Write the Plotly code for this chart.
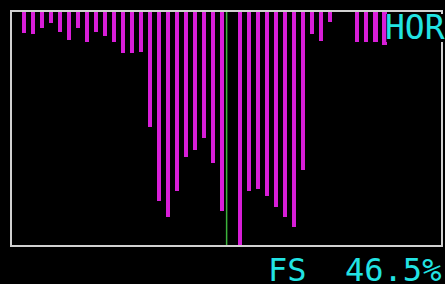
import plotly.graph_objects as go

# bar slot index (0..45) and depth of each bar (percent of frame height, measured from the top)
slots = list(range(46))
depth = [9.0, 9.4, 6.9, 4.7, 8.6, 12.0, 6.9, 12.9, 8.6, 10.3,
         12.9, 17.6, 17.6, 17.2, 49.4, 81.1, 88.0, 76.8, 62.2, 59.2,
         54.1, 64.8, 85.4, 0.0, 100.0, 76.8, 76.0, 79.0, 83.7, 88.0,
         92.3, 67.8, 9.4, 12.4, 4.3, 0.0, 0.0, 12.9, 12.9, 12.9,
         14.2, 0.0, 0.0, 0.0, 0.0, 0.0]
center_slot = 22.5
mode_label = "HOR"
fs_label = "FS  46.5%"

fig = go.Figure()
fig.add_trace(go.Bar(x=slots, y=depth, base=0, width=0.5,
                     marker=dict(color="#D81ED8", line=dict(width=0)),
                     hoverinfo="skip"))

fig.add_shape(type="line", xref="x", yref="y", x0=center_slot, x1=center_slot,
              y0=0, y1=100, line=dict(color="#3CB43C", width=1.5))
# black label panel behind the mode label
fig.add_shape(type="rect", xref="paper", yref="paper", x0=0.8724, x1=1.03,
              y0=0.871, y1=0.9914, fillcolor="black", line=dict(width=0), layer="above")

fig.add_annotation(text=mode_label, xref="paper", yref="paper", x=0.864, y=0.933,
                   xanchor="left", yanchor="middle", showarrow=False,
                   font=dict(family="DejaVu Sans Mono", size=33, color="#22E3E3"))
fig.add_annotation(text=fs_label, xref="paper", yref="paper", x=0.592, y=-0.107,
                   xanchor="left", yanchor="middle", showarrow=False,
                   font=dict(family="DejaVu Sans Mono", size=32, color="#22E3E3"))

axis_common = dict(showgrid=False, zeroline=False, showticklabels=False, ticks="",
                   showline=True, mirror=True, linecolor="#D0D0D0", linewidth=2,
                   layer="below traces", fixedrange=True)
fig.update_xaxes(range=[-1.326, 46.3], **axis_common)
fig.update_yaxes(range=[100, 0], **axis_common)

fig.update_layout(width=445, height=284, margin=dict(l=12, r=2, t=12, b=39),
                  paper_bgcolor="black", plot_bgcolor="black", showlegend=False,
                  bargap=0)
fig.write_html("out.html", config={"displayModeBar": False},
               post_script="document.body.style.margin='0';document.body.style.background='black';document.body.style.overflow='hidden';")
